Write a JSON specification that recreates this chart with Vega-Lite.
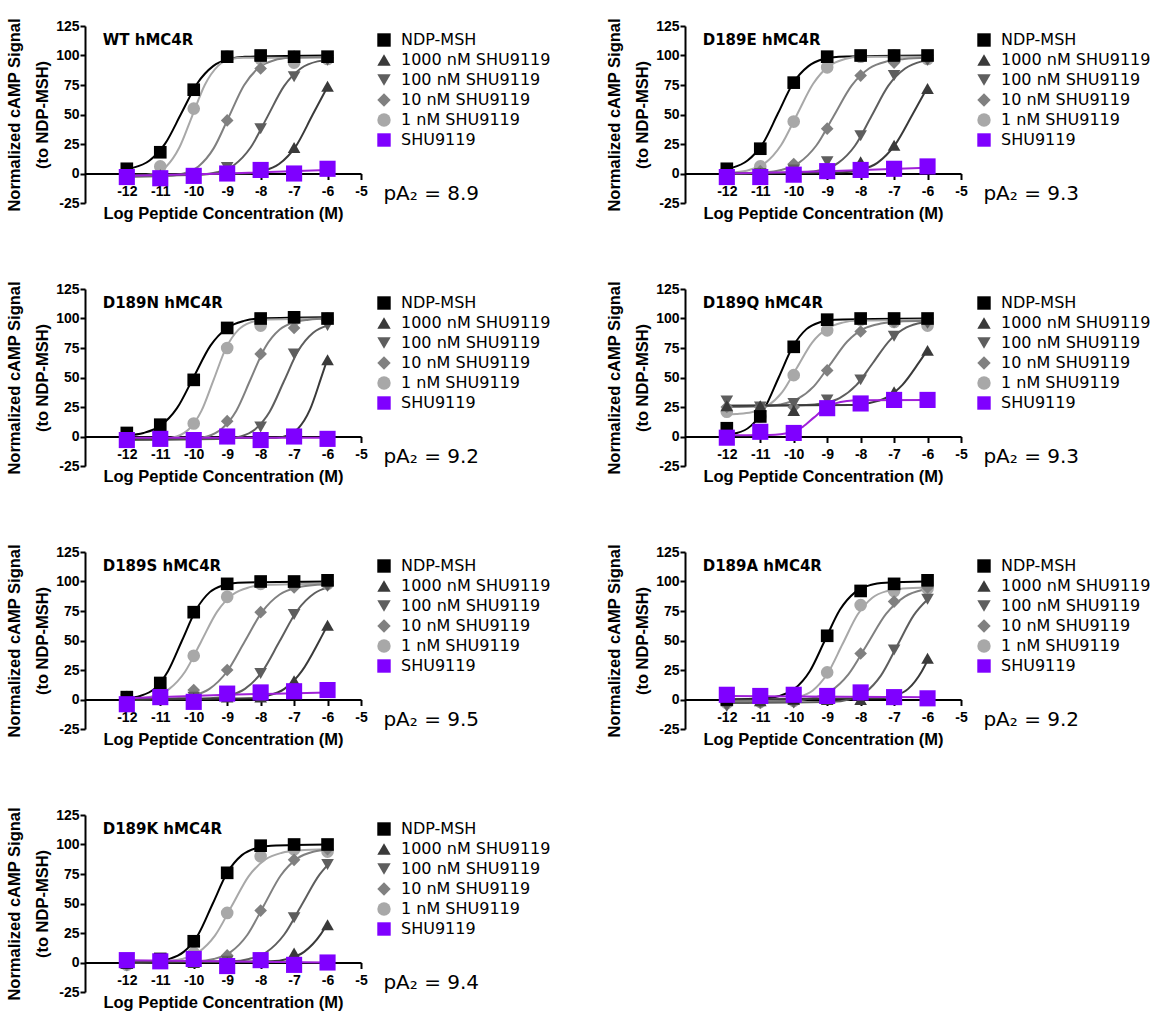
{
"$schema":"https://vega.github.io/schema/vega-lite/v6.json",
"padding":{"left":6,"top":17,"right":0,"bottom":0},
"background":"white",
"columns":2,
"spacing":{"row":86,"column":324},
"bounds":"flush",
"resolve":{"scale":{"color":"independent","shape":"independent"},"legend":{"color":"independent","shape":"independent"}},
"config":{
"view":{"stroke":null},
"axis":{"grid":false,"labelFont":"Liberation Sans","labelFontWeight":"bold","labelFontSize":14,"labelColor":"#000","titleFont":"Liberation Sans","titleFontWeight":"bold","titleFontSize":16.5,"titleColor":"#000","domainColor":"#000","domainWidth":2,"tickColor":"#000","tickWidth":2,"labelFlush":false,"labelOverlap":false,"tickCount":20},
"axisX":{"tickSize":6,"labelPadding":5,"titlePadding":7},
"axisY":{"tickSize":5,"labelPadding":1,"titlePadding":5,"titleLineHeight":28},
"legend":{"labelFont":"DejaVu Sans","labelFontSize":16,"labelColor":"#000","symbolSize":180,"rowPadding":4,"labelOffset":9}
},
"datasets":{
"ann":[
{"p":"WT","t":"WT hMC4R","a":"pA₂ = 8.9"},
{"p":"D189E","t":"D189E hMC4R","a":"pA₂ = 9.3"},
{"p":"D189N","t":"D189N hMC4R","a":"pA₂ = 9.2"},
{"p":"D189Q","t":"D189Q hMC4R","a":"pA₂ = 9.3"},
{"p":"D189S","t":"D189S hMC4R","a":"pA₂ = 9.5"},
{"p":"D189A","t":"D189A hMC4R","a":"pA₂ = 9.2"},
{"p":"D189K","t":"D189K hMC4R","a":"pA₂ = 9.4"}
],
"pts":[
{"p":"WT","s":"1","x":-12,"y":-3},{"p":"WT","s":"1","x":-11,"y":6},{"p":"WT","s":"1","x":-10,"y":55},{"p":"WT","s":"1","x":-9,"y":99},{"p":"WT","s":"1","x":-8,"y":97},{"p":"WT","s":"1","x":-7,"y":94},{"p":"WT","s":"1","x":-6,"y":97},
{"p":"WT","s":"10","x":-12,"y":-3},{"p":"WT","s":"10","x":-11,"y":-3},{"p":"WT","s":"10","x":-10,"y":-2},{"p":"WT","s":"10","x":-9,"y":45},{"p":"WT","s":"10","x":-8,"y":89},{"p":"WT","s":"10","x":-7,"y":99},{"p":"WT","s":"10","x":-6,"y":98},
{"p":"WT","s":"100","x":-12,"y":-3},{"p":"WT","s":"100","x":-11,"y":-3},{"p":"WT","s":"100","x":-10,"y":-3},{"p":"WT","s":"100","x":-9,"y":5},{"p":"WT","s":"100","x":-8,"y":38},{"p":"WT","s":"100","x":-7,"y":82},{"p":"WT","s":"100","x":-6,"y":96},
{"p":"WT","s":"1000","x":-12,"y":-1},{"p":"WT","s":"1000","x":-11,"y":-1},{"p":"WT","s":"1000","x":-10,"y":-1},{"p":"WT","s":"1000","x":-9,"y":0},{"p":"WT","s":"1000","x":-8,"y":2},{"p":"WT","s":"1000","x":-7,"y":22},{"p":"WT","s":"1000","x":-6,"y":74},
{"p":"WT","s":"N","x":-12,"y":4},{"p":"WT","s":"N","x":-11,"y":18},{"p":"WT","s":"N","x":-10,"y":71},{"p":"WT","s":"N","x":-9,"y":99},{"p":"WT","s":"N","x":-8,"y":100},{"p":"WT","s":"N","x":-7,"y":99},{"p":"WT","s":"N","x":-6,"y":99},
{"p":"WT","s":"S","x":-12,"y":-3},{"p":"WT","s":"S","x":-11,"y":-4},{"p":"WT","s":"S","x":-10,"y":-2},{"p":"WT","s":"S","x":-9,"y":0},{"p":"WT","s":"S","x":-8,"y":3},{"p":"WT","s":"S","x":-7,"y":0},{"p":"WT","s":"S","x":-6,"y":4},

{"p":"D189E","s":"1","x":-12,"y":2},{"p":"D189E","s":"1","x":-11,"y":6},{"p":"D189E","s":"1","x":-10,"y":44},{"p":"D189E","s":"1","x":-9,"y":90},{"p":"D189E","s":"1","x":-8,"y":99},{"p":"D189E","s":"1","x":-7,"y":100},{"p":"D189E","s":"1","x":-6,"y":97},
{"p":"D189E","s":"10","x":-12,"y":1},{"p":"D189E","s":"10","x":-11,"y":2},{"p":"D189E","s":"10","x":-10,"y":8},{"p":"D189E","s":"10","x":-9,"y":38},{"p":"D189E","s":"10","x":-8,"y":83},{"p":"D189E","s":"10","x":-7,"y":94},{"p":"D189E","s":"10","x":-6,"y":97},
{"p":"D189E","s":"100","x":-12,"y":0},{"p":"D189E","s":"100","x":-11,"y":0},{"p":"D189E","s":"100","x":-10,"y":3},{"p":"D189E","s":"100","x":-9,"y":10},{"p":"D189E","s":"100","x":-8,"y":32},{"p":"D189E","s":"100","x":-7,"y":83},{"p":"D189E","s":"100","x":-6,"y":96},
{"p":"D189E","s":"1000","x":-12,"y":0},{"p":"D189E","s":"1000","x":-11,"y":0},{"p":"D189E","s":"1000","x":-10,"y":1},{"p":"D189E","s":"1000","x":-9,"y":2},{"p":"D189E","s":"1000","x":-8,"y":10},{"p":"D189E","s":"1000","x":-7,"y":24},{"p":"D189E","s":"1000","x":-6,"y":72},
{"p":"D189E","s":"N","x":-12,"y":4},{"p":"D189E","s":"N","x":-11,"y":21},{"p":"D189E","s":"N","x":-10,"y":77},{"p":"D189E","s":"N","x":-9,"y":99},{"p":"D189E","s":"N","x":-8,"y":100},{"p":"D189E","s":"N","x":-7,"y":100},{"p":"D189E","s":"N","x":-6,"y":100},
{"p":"D189E","s":"S","x":-12,"y":-3},{"p":"D189E","s":"S","x":-11,"y":-3},{"p":"D189E","s":"S","x":-10,"y":-1},{"p":"D189E","s":"S","x":-9,"y":2},{"p":"D189E","s":"S","x":-8,"y":3},{"p":"D189E","s":"S","x":-7,"y":4},{"p":"D189E","s":"S","x":-6,"y":6},

{"p":"D189N","s":"1","x":-12,"y":-3},{"p":"D189N","s":"1","x":-11,"y":-3},{"p":"D189N","s":"1","x":-10,"y":11},{"p":"D189N","s":"1","x":-9,"y":75},{"p":"D189N","s":"1","x":-8,"y":94},{"p":"D189N","s":"1","x":-7,"y":99},{"p":"D189N","s":"1","x":-6,"y":100},
{"p":"D189N","s":"10","x":-12,"y":-3},{"p":"D189N","s":"10","x":-11,"y":-3},{"p":"D189N","s":"10","x":-10,"y":-3},{"p":"D189N","s":"10","x":-9,"y":13},{"p":"D189N","s":"10","x":-8,"y":70},{"p":"D189N","s":"10","x":-7,"y":92},{"p":"D189N","s":"10","x":-6,"y":99},
{"p":"D189N","s":"100","x":-12,"y":-3},{"p":"D189N","s":"100","x":-11,"y":-3},{"p":"D189N","s":"100","x":-10,"y":-3},{"p":"D189N","s":"100","x":-9,"y":-2},{"p":"D189N","s":"100","x":-8,"y":8},{"p":"D189N","s":"100","x":-7,"y":70},{"p":"D189N","s":"100","x":-6,"y":94},
{"p":"D189N","s":"1000","x":-12,"y":-2},{"p":"D189N","s":"1000","x":-11,"y":-2},{"p":"D189N","s":"1000","x":-10,"y":-1},{"p":"D189N","s":"1000","x":-9,"y":0},{"p":"D189N","s":"1000","x":-8,"y":-1},{"p":"D189N","s":"1000","x":-7,"y":0},{"p":"D189N","s":"1000","x":-6,"y":65},
{"p":"D189N","s":"N","x":-12,"y":3},{"p":"D189N","s":"N","x":-11,"y":10},{"p":"D189N","s":"N","x":-10,"y":48},{"p":"D189N","s":"N","x":-9,"y":92},{"p":"D189N","s":"N","x":-8,"y":100},{"p":"D189N","s":"N","x":-7,"y":101},{"p":"D189N","s":"N","x":-6,"y":100},
{"p":"D189N","s":"S","x":-12,"y":-3},{"p":"D189N","s":"S","x":-11,"y":-2},{"p":"D189N","s":"S","x":-10,"y":-3},{"p":"D189N","s":"S","x":-9,"y":0},{"p":"D189N","s":"S","x":-8,"y":-3},{"p":"D189N","s":"S","x":-7,"y":0},{"p":"D189N","s":"S","x":-6,"y":-2},

{"p":"D189Q","s":"1","x":-12,"y":21},{"p":"D189Q","s":"1","x":-11,"y":17},{"p":"D189Q","s":"1","x":-10,"y":52},{"p":"D189Q","s":"1","x":-9,"y":90},{"p":"D189Q","s":"1","x":-8,"y":99},{"p":"D189Q","s":"1","x":-7,"y":97},{"p":"D189Q","s":"1","x":-6,"y":94},
{"p":"D189Q","s":"10","x":-12,"y":25},{"p":"D189Q","s":"10","x":-11,"y":25},{"p":"D189Q","s":"10","x":-10,"y":25},{"p":"D189Q","s":"10","x":-9,"y":56},{"p":"D189Q","s":"10","x":-8,"y":89},{"p":"D189Q","s":"10","x":-7,"y":97},{"p":"D189Q","s":"10","x":-6,"y":97},
{"p":"D189Q","s":"100","x":-12,"y":30},{"p":"D189Q","s":"100","x":-11,"y":25},{"p":"D189Q","s":"100","x":-10,"y":28},{"p":"D189Q","s":"100","x":-9,"y":31},{"p":"D189Q","s":"100","x":-8,"y":48},{"p":"D189Q","s":"100","x":-7,"y":85},{"p":"D189Q","s":"100","x":-6,"y":96},
{"p":"D189Q","s":"1000","x":-12,"y":26},{"p":"D189Q","s":"1000","x":-11,"y":26},{"p":"D189Q","s":"1000","x":-10,"y":22},{"p":"D189Q","s":"1000","x":-9,"y":26},{"p":"D189Q","s":"1000","x":-8,"y":28},{"p":"D189Q","s":"1000","x":-7,"y":38},{"p":"D189Q","s":"1000","x":-6,"y":73},
{"p":"D189Q","s":"N","x":-12,"y":7},{"p":"D189Q","s":"N","x":-11,"y":17},{"p":"D189Q","s":"N","x":-10,"y":76},{"p":"D189Q","s":"N","x":-9,"y":99},{"p":"D189Q","s":"N","x":-8,"y":100},{"p":"D189Q","s":"N","x":-7,"y":100},{"p":"D189Q","s":"N","x":-6,"y":100},
{"p":"D189Q","s":"S","x":-12,"y":-1},{"p":"D189Q","s":"S","x":-11,"y":4},{"p":"D189Q","s":"S","x":-10,"y":3},{"p":"D189Q","s":"S","x":-9,"y":24},{"p":"D189Q","s":"S","x":-8,"y":28},{"p":"D189Q","s":"S","x":-7,"y":31},{"p":"D189Q","s":"S","x":-6,"y":31},

{"p":"D189S","s":"1","x":-12,"y":2},{"p":"D189S","s":"1","x":-11,"y":9},{"p":"D189S","s":"1","x":-10,"y":37},{"p":"D189S","s":"1","x":-9,"y":87},{"p":"D189S","s":"1","x":-8,"y":98},{"p":"D189S","s":"1","x":-7,"y":98},{"p":"D189S","s":"1","x":-6,"y":98},
{"p":"D189S","s":"10","x":-12,"y":-1},{"p":"D189S","s":"10","x":-11,"y":2},{"p":"D189S","s":"10","x":-10,"y":8},{"p":"D189S","s":"10","x":-9,"y":25},{"p":"D189S","s":"10","x":-8,"y":74},{"p":"D189S","s":"10","x":-7,"y":95},{"p":"D189S","s":"10","x":-6,"y":97},
{"p":"D189S","s":"100","x":-12,"y":0},{"p":"D189S","s":"100","x":-11,"y":1},{"p":"D189S","s":"100","x":-10,"y":2},{"p":"D189S","s":"100","x":-9,"y":5},{"p":"D189S","s":"100","x":-8,"y":22},{"p":"D189S","s":"100","x":-7,"y":72},{"p":"D189S","s":"100","x":-6,"y":96},
{"p":"D189S","s":"1000","x":-12,"y":0},{"p":"D189S","s":"1000","x":-11,"y":1},{"p":"D189S","s":"1000","x":-10,"y":1},{"p":"D189S","s":"1000","x":-9,"y":2},{"p":"D189S","s":"1000","x":-8,"y":2},{"p":"D189S","s":"1000","x":-7,"y":16},{"p":"D189S","s":"1000","x":-6,"y":63},
{"p":"D189S","s":"N","x":-12,"y":2},{"p":"D189S","s":"N","x":-11,"y":14},{"p":"D189S","s":"N","x":-10,"y":74},{"p":"D189S","s":"N","x":-9,"y":98},{"p":"D189S","s":"N","x":-8,"y":100},{"p":"D189S","s":"N","x":-7,"y":100},{"p":"D189S","s":"N","x":-6,"y":101},
{"p":"D189S","s":"S","x":-12,"y":-4},{"p":"D189S","s":"S","x":-11,"y":2},{"p":"D189S","s":"S","x":-10,"y":-2},{"p":"D189S","s":"S","x":-9,"y":5},{"p":"D189S","s":"S","x":-8,"y":6},{"p":"D189S","s":"S","x":-7,"y":7},{"p":"D189S","s":"S","x":-6,"y":8},

{"p":"D189A","s":"1","x":-12,"y":-3},{"p":"D189A","s":"1","x":-11,"y":-2},{"p":"D189A","s":"1","x":-10,"y":-1},{"p":"D189A","s":"1","x":-9,"y":23},{"p":"D189A","s":"1","x":-8,"y":80},{"p":"D189A","s":"1","x":-7,"y":92},{"p":"D189A","s":"1","x":-6,"y":94},
{"p":"D189A","s":"10","x":-12,"y":-3},{"p":"D189A","s":"10","x":-11,"y":-3},{"p":"D189A","s":"10","x":-10,"y":-2},{"p":"D189A","s":"10","x":-9,"y":1},{"p":"D189A","s":"10","x":-8,"y":39},{"p":"D189A","s":"10","x":-7,"y":83},{"p":"D189A","s":"10","x":-6,"y":95},
{"p":"D189A","s":"100","x":-12,"y":-6},{"p":"D189A","s":"100","x":-11,"y":-3},{"p":"D189A","s":"100","x":-10,"y":-3},{"p":"D189A","s":"100","x":-9,"y":0},{"p":"D189A","s":"100","x":-8,"y":1},{"p":"D189A","s":"100","x":-7,"y":42},{"p":"D189A","s":"100","x":-6,"y":85},
{"p":"D189A","s":"1000","x":-12,"y":-1},{"p":"D189A","s":"1000","x":-11,"y":-1},{"p":"D189A","s":"1000","x":-10,"y":0},{"p":"D189A","s":"1000","x":-9,"y":0},{"p":"D189A","s":"1000","x":-8,"y":0},{"p":"D189A","s":"1000","x":-7,"y":0},{"p":"D189A","s":"1000","x":-6,"y":35},
{"p":"D189A","s":"N","x":-12,"y":0},{"p":"D189A","s":"N","x":-11,"y":4},{"p":"D189A","s":"N","x":-10,"y":2},{"p":"D189A","s":"N","x":-9,"y":54},{"p":"D189A","s":"N","x":-8,"y":92},{"p":"D189A","s":"N","x":-7,"y":98},{"p":"D189A","s":"N","x":-6,"y":101},
{"p":"D189A","s":"S","x":-12,"y":4},{"p":"D189A","s":"S","x":-11,"y":3},{"p":"D189A","s":"S","x":-10,"y":4},{"p":"D189A","s":"S","x":-9,"y":3},{"p":"D189A","s":"S","x":-8,"y":6},{"p":"D189A","s":"S","x":-7,"y":2},{"p":"D189A","s":"S","x":-6,"y":1},

{"p":"D189K","s":"1","x":-12,"y":-2},{"p":"D189K","s":"1","x":-11,"y":1},{"p":"D189K","s":"1","x":-10,"y":8},{"p":"D189K","s":"1","x":-9,"y":42},{"p":"D189K","s":"1","x":-8,"y":90},{"p":"D189K","s":"1","x":-7,"y":96},{"p":"D189K","s":"1","x":-6,"y":94},
{"p":"D189K","s":"10","x":-12,"y":-2},{"p":"D189K","s":"10","x":-11,"y":0},{"p":"D189K","s":"10","x":-10,"y":1},{"p":"D189K","s":"10","x":-9,"y":6},{"p":"D189K","s":"10","x":-8,"y":44},{"p":"D189K","s":"10","x":-7,"y":87},{"p":"D189K","s":"10","x":-6,"y":96},
{"p":"D189K","s":"100","x":-12,"y":-1},{"p":"D189K","s":"100","x":-11,"y":0},{"p":"D189K","s":"100","x":-10,"y":1},{"p":"D189K","s":"100","x":-9,"y":1},{"p":"D189K","s":"100","x":-8,"y":2},{"p":"D189K","s":"100","x":-7,"y":38},{"p":"D189K","s":"100","x":-6,"y":83},
{"p":"D189K","s":"1000","x":-12,"y":0},{"p":"D189K","s":"1000","x":-11,"y":0},{"p":"D189K","s":"1000","x":-10,"y":0},{"p":"D189K","s":"1000","x":-9,"y":0},{"p":"D189K","s":"1000","x":-8,"y":1},{"p":"D189K","s":"1000","x":-7,"y":8},{"p":"D189K","s":"1000","x":-6,"y":32},
{"p":"D189K","s":"N","x":-12,"y":0},{"p":"D189K","s":"N","x":-11,"y":3},{"p":"D189K","s":"N","x":-10,"y":18},{"p":"D189K","s":"N","x":-9,"y":76},{"p":"D189K","s":"N","x":-8,"y":99},{"p":"D189K","s":"N","x":-7,"y":100},{"p":"D189K","s":"N","x":-6,"y":100},
{"p":"D189K","s":"S","x":-12,"y":2},{"p":"D189K","s":"S","x":-11,"y":1},{"p":"D189K","s":"S","x":-10,"y":3},{"p":"D189K","s":"S","x":-9,"y":-3},{"p":"D189K","s":"S","x":-8,"y":2},{"p":"D189K","s":"S","x":-7,"y":-2},{"p":"D189K","s":"S","x":-6,"y":0}
],
"fit":[
{"p":"WT","c":"N","x":-12,"y":4},{"p":"WT","c":"N","x":-11.8,"y":5},{"p":"WT","c":"N","x":-11.32,"y":11},{"p":"WT","c":"N","x":-10.85,"y":25.5},{"p":"WT","c":"N","x":-10.37,"y":51},{"p":"WT","c":"N","x":-9.89,"y":76.5},{"p":"WT","c":"N","x":-9.42,"y":91},{"p":"WT","c":"N","x":-8.94,"y":97},{"p":"WT","c":"N","x":-8.47,"y":99},{"p":"WT","c":"N","x":-6,"y":100},
{"p":"WT","c":"1","x":-12,"y":-3},{"p":"WT","c":"1","x":-11.59,"y":-2},{"p":"WT","c":"1","x":-11.2,"y":0},{"p":"WT","c":"1","x":-10.82,"y":6},{"p":"WT","c":"1","x":-10.43,"y":22},{"p":"WT","c":"1","x":-10.05,"y":48.5},{"p":"WT","c":"1","x":-9.67,"y":75},{"p":"WT","c":"1","x":-9.28,"y":91},{"p":"WT","c":"1","x":-8.9,"y":97},{"p":"WT","c":"1","x":-8.51,"y":98},{"p":"WT","c":"1","x":-6,"y":98},
{"p":"WT","c":"10","x":-12,"y":-3},{"p":"WT","c":"10","x":-10.77,"y":-2},{"p":"WT","c":"10","x":-10.31,"y":0},{"p":"WT","c":"10","x":-9.86,"y":6},{"p":"WT","c":"10","x":-9.4,"y":21.5},{"p":"WT","c":"10","x":-8.95,"y":48},{"p":"WT","c":"10","x":-8.5,"y":74.5},{"p":"WT","c":"10","x":-8.04,"y":90},{"p":"WT","c":"10","x":-7.59,"y":96},{"p":"WT","c":"10","x":-7.13,"y":98},{"p":"WT","c":"10","x":-6,"y":99},
{"p":"WT","c":"100","x":-12,"y":-2},{"p":"WT","c":"100","x":-9.8,"y":-1},{"p":"WT","c":"100","x":-9.3,"y":1},{"p":"WT","c":"100","x":-8.8,"y":7},{"p":"WT","c":"100","x":-8.3,"y":22},{"p":"WT","c":"100","x":-7.8,"y":48},{"p":"WT","c":"100","x":-7.3,"y":74},{"p":"WT","c":"100","x":-6.8,"y":89},{"p":"WT","c":"100","x":-6.3,"y":95},{"p":"WT","c":"100","x":-6,"y":96},
{"p":"WT","c":"1000","x":-12,"y":-1},{"p":"WT","c":"1000","x":-8.45,"y":0},{"p":"WT","c":"1000","x":-7.95,"y":2},{"p":"WT","c":"1000","x":-7.45,"y":8},{"p":"WT","c":"1000","x":-6.95,"y":23},{"p":"WT","c":"1000","x":-6.45,"y":49.5},{"p":"WT","c":"1000","x":-6,"y":73.5},
{"p":"WT","c":"S","x":-12,"y":-2},{"p":"WT","c":"S","x":-9,"y":0},{"p":"WT","c":"S","x":-6,"y":3},

{"p":"D189E","c":"N","x":-12,"y":4},{"p":"D189E","c":"N","x":-11.83,"y":5},{"p":"D189E","c":"N","x":-11.38,"y":11},{"p":"D189E","c":"N","x":-10.92,"y":25.5},{"p":"D189E","c":"N","x":-10.47,"y":51},{"p":"D189E","c":"N","x":-10.02,"y":76.5},{"p":"D189E","c":"N","x":-9.56,"y":91},{"p":"D189E","c":"N","x":-9.11,"y":97},{"p":"D189E","c":"N","x":-8.65,"y":99},{"p":"D189E","c":"N","x":-6,"y":100},
{"p":"D189E","c":"1","x":-12,"y":0.6},{"p":"D189E","c":"1","x":-11.8,"y":1},{"p":"D189E","c":"1","x":-11.33,"y":3},{"p":"D189E","c":"1","x":-10.85,"y":9},{"p":"D189E","c":"1","x":-10.38,"y":24},{"p":"D189E","c":"1","x":-9.9,"y":50},{"p":"D189E","c":"1","x":-9.42,"y":76},{"p":"D189E","c":"1","x":-8.95,"y":91},{"p":"D189E","c":"1","x":-8.47,"y":97},{"p":"D189E","c":"1","x":-8,"y":99},{"p":"D189E","c":"1","x":-6,"y":99},
{"p":"D189E","c":"10","x":-12,"y":0},{"p":"D189E","c":"10","x":-10.9,"y":1},{"p":"D189E","c":"10","x":-10.38,"y":3},{"p":"D189E","c":"10","x":-9.85,"y":9},{"p":"D189E","c":"10","x":-9.33,"y":23.5},{"p":"D189E","c":"10","x":-8.8,"y":49},{"p":"D189E","c":"10","x":-8.27,"y":74.5},{"p":"D189E","c":"10","x":-7.75,"y":89},{"p":"D189E","c":"10","x":-7.22,"y":95},{"p":"D189E","c":"10","x":-6.7,"y":97},{"p":"D189E","c":"10","x":-6,"y":98},
{"p":"D189E","c":"100","x":-12,"y":0},{"p":"D189E","c":"100","x":-9.67,"y":1},{"p":"D189E","c":"100","x":-9.17,"y":3},{"p":"D189E","c":"100","x":-8.67,"y":9},{"p":"D189E","c":"100","x":-8.17,"y":23.5},{"p":"D189E","c":"100","x":-7.67,"y":49},{"p":"D189E","c":"100","x":-7.17,"y":74.5},{"p":"D189E","c":"100","x":-6.67,"y":89},{"p":"D189E","c":"100","x":-6.17,"y":95},{"p":"D189E","c":"100","x":-6,"y":96},
{"p":"D189E","c":"1000","x":-12,"y":0},{"p":"D189E","c":"1000","x":-8.55,"y":1},{"p":"D189E","c":"1000","x":-8.03,"y":3},{"p":"D189E","c":"1000","x":-7.5,"y":9},{"p":"D189E","c":"1000","x":-6.98,"y":24},{"p":"D189E","c":"1000","x":-6.45,"y":50},{"p":"D189E","c":"1000","x":-6,"y":73},
{"p":"D189E","c":"S","x":-12,"y":0},{"p":"D189E","c":"S","x":-9,"y":2},{"p":"D189E","c":"S","x":-6,"y":5},

{"p":"D189N","c":"N","x":-12,"y":1},{"p":"D189N","c":"N","x":-11.5,"y":3},{"p":"D189N","c":"N","x":-11,"y":9},{"p":"D189N","c":"N","x":-10.5,"y":24},{"p":"D189N","c":"N","x":-10,"y":50.5},{"p":"D189N","c":"N","x":-9.5,"y":77},{"p":"D189N","c":"N","x":-9,"y":92},{"p":"D189N","c":"N","x":-8.5,"y":98},{"p":"D189N","c":"N","x":-8,"y":100},{"p":"D189N","c":"N","x":-6,"y":101},
{"p":"D189N","c":"1","x":-12,"y":-3},{"p":"D189N","c":"1","x":-10.88,"y":-2},{"p":"D189N","c":"1","x":-10.51,"y":0},{"p":"D189N","c":"1","x":-10.14,"y":6.4},{"p":"D189N","c":"1","x":-9.77,"y":21.7},{"p":"D189N","c":"1","x":-9.4,"y":48.5},{"p":"D189N","c":"1","x":-9.03,"y":75.3},{"p":"D189N","c":"1","x":-8.66,"y":90.6},{"p":"D189N","c":"1","x":-8.29,"y":96.8},{"p":"D189N","c":"1","x":-7.92,"y":99},{"p":"D189N","c":"1","x":-6,"y":100},
{"p":"D189N","c":"10","x":-12,"y":-3},{"p":"D189N","c":"10","x":-10.04,"y":-2},{"p":"D189N","c":"10","x":-9.6,"y":0},{"p":"D189N","c":"10","x":-9.17,"y":6.4},{"p":"D189N","c":"10","x":-8.73,"y":21.7},{"p":"D189N","c":"10","x":-8.3,"y":48.5},{"p":"D189N","c":"10","x":-7.87,"y":75.3},{"p":"D189N","c":"10","x":-7.43,"y":90.6},{"p":"D189N","c":"10","x":-7,"y":96.8},{"p":"D189N","c":"10","x":-6.56,"y":99},{"p":"D189N","c":"10","x":-6,"y":100},
{"p":"D189N","c":"100","x":-12,"y":-3},{"p":"D189N","c":"100","x":-9.04,"y":-2},{"p":"D189N","c":"100","x":-8.6,"y":0},{"p":"D189N","c":"100","x":-8.17,"y":6},{"p":"D189N","c":"100","x":-7.73,"y":21},{"p":"D189N","c":"100","x":-7.3,"y":47},{"p":"D189N","c":"100","x":-6.87,"y":73},{"p":"D189N","c":"100","x":-6.43,"y":88},{"p":"D189N","c":"100","x":-6,"y":94},
{"p":"D189N","c":"1000","x":-12,"y":-2},{"p":"D189N","c":"1000","x":-7.53,"y":-1},{"p":"D189N","c":"1000","x":-7.2,"y":1},{"p":"D189N","c":"1000","x":-6.87,"y":7},{"p":"D189N","c":"1000","x":-6.53,"y":22.5},{"p":"D189N","c":"1000","x":-6.2,"y":49},{"p":"D189N","c":"1000","x":-6,"y":66},
{"p":"D189N","c":"S","x":-12,"y":-1},{"p":"D189N","c":"S","x":-6,"y":-1},

{"p":"D189Q","c":"N","x":-12,"y":2},{"p":"D189Q","c":"N","x":-11.7,"y":3},{"p":"D189Q","c":"N","x":-11.28,"y":9},{"p":"D189Q","c":"N","x":-10.87,"y":24},{"p":"D189Q","c":"N","x":-10.45,"y":50},{"p":"D189Q","c":"N","x":-10.03,"y":76},{"p":"D189Q","c":"N","x":-9.62,"y":91},{"p":"D189Q","c":"N","x":-9.2,"y":97},{"p":"D189Q","c":"N","x":-8.78,"y":99},{"p":"D189Q","c":"N","x":-6,"y":100},
{"p":"D189Q","c":"1","x":-12,"y":18.5},{"p":"D189Q","c":"1","x":-11.72,"y":19},{"p":"D189Q","c":"1","x":-11.26,"y":20.5},{"p":"D189Q","c":"1","x":-10.81,"y":25.4},{"p":"D189Q","c":"1","x":-10.35,"y":37.4},{"p":"D189Q","c":"1","x":-9.9,"y":58.5},{"p":"D189Q","c":"1","x":-9.45,"y":79.6},{"p":"D189Q","c":"1","x":-8.99,"y":91.6},{"p":"D189Q","c":"1","x":-8.54,"y":96.5},{"p":"D189Q","c":"1","x":-8.08,"y":98.2},{"p":"D189Q","c":"1","x":-6,"y":99},
{"p":"D189Q","c":"10","x":-12,"y":25},{"p":"D189Q","c":"10","x":-10.9,"y":25.7},{"p":"D189Q","c":"10","x":-10.4,"y":27.2},{"p":"D189Q","c":"10","x":-9.9,"y":31.6},{"p":"D189Q","c":"10","x":-9.4,"y":42.5},{"p":"D189Q","c":"10","x":-8.9,"y":61.5},{"p":"D189Q","c":"10","x":-8.4,"y":80.5},{"p":"D189Q","c":"10","x":-7.9,"y":91.4},{"p":"D189Q","c":"10","x":-7.4,"y":95.7},{"p":"D189Q","c":"10","x":-6.9,"y":97.3},{"p":"D189Q","c":"10","x":-6,"y":98},
{"p":"D189Q","c":"100","x":-12,"y":26},{"p":"D189Q","c":"100","x":-9.63,"y":26.7},{"p":"D189Q","c":"100","x":-9.13,"y":28.2},{"p":"D189Q","c":"100","x":-8.63,"y":32.6},{"p":"D189Q","c":"100","x":-8.13,"y":43.5},{"p":"D189Q","c":"100","x":-7.63,"y":62.5},{"p":"D189Q","c":"100","x":-7.13,"y":81.5},{"p":"D189Q","c":"100","x":-6.63,"y":92.4},{"p":"D189Q","c":"100","x":-6.13,"y":96.7},{"p":"D189Q","c":"100","x":-6,"y":97.3},
{"p":"D189Q","c":"1000","x":-12,"y":26},{"p":"D189Q","c":"1000","x":-8.25,"y":26.7},{"p":"D189Q","c":"1000","x":-7.75,"y":28.3},{"p":"D189Q","c":"1000","x":-7.25,"y":32.7},{"p":"D189Q","c":"1000","x":-6.75,"y":43.8},{"p":"D189Q","c":"1000","x":-6.25,"y":63},{"p":"D189Q","c":"1000","x":-6,"y":73.4},
{"p":"D189Q","c":"S","x":-12,"y":1},{"p":"D189Q","c":"S","x":-10.73,"y":1.3},{"p":"D189Q","c":"S","x":-10.4,"y":1.9},{"p":"D189Q","c":"S","x":-10.07,"y":3.7},{"p":"D189Q","c":"S","x":-9.73,"y":8.2},{"p":"D189Q","c":"S","x":-9.4,"y":16},{"p":"D189Q","c":"S","x":-9.07,"y":23.8},{"p":"D189Q","c":"S","x":-8.73,"y":28.3},{"p":"D189Q","c":"S","x":-8.4,"y":30.1},{"p":"D189Q","c":"S","x":-8.07,"y":30.7},{"p":"D189Q","c":"S","x":-6,"y":31},

{"p":"D189S","c":"N","x":-12,"y":1},{"p":"D189S","c":"N","x":-11.6,"y":3},{"p":"D189S","c":"N","x":-11.18,"y":9},{"p":"D189S","c":"N","x":-10.77,"y":24},{"p":"D189S","c":"N","x":-10.35,"y":50},{"p":"D189S","c":"N","x":-9.93,"y":76},{"p":"D189S","c":"N","x":-9.52,"y":91},{"p":"D189S","c":"N","x":-9.1,"y":97},{"p":"D189S","c":"N","x":-8.68,"y":99},{"p":"D189S","c":"N","x":-6,"y":100},
{"p":"D189S","c":"1","x":-12,"y":0.5},{"p":"D189S","c":"1","x":-11.68,"y":1},{"p":"D189S","c":"1","x":-11.21,"y":3},{"p":"D189S","c":"1","x":-10.73,"y":9},{"p":"D189S","c":"1","x":-10.26,"y":23.5},{"p":"D189S","c":"1","x":-9.78,"y":49},{"p":"D189S","c":"1","x":-9.3,"y":74.5},{"p":"D189S","c":"1","x":-8.83,"y":89},{"p":"D189S","c":"1","x":-8.35,"y":95},{"p":"D189S","c":"1","x":-7.88,"y":97},{"p":"D189S","c":"1","x":-6,"y":98},
{"p":"D189S","c":"10","x":-12,"y":0},{"p":"D189S","c":"10","x":-10.58,"y":1},{"p":"D189S","c":"10","x":-10.06,"y":3},{"p":"D189S","c":"10","x":-9.53,"y":9},{"p":"D189S","c":"10","x":-9.01,"y":23.5},{"p":"D189S","c":"10","x":-8.48,"y":49},{"p":"D189S","c":"10","x":-7.95,"y":74.5},{"p":"D189S","c":"10","x":-7.43,"y":89},{"p":"D189S","c":"10","x":-6.9,"y":95},{"p":"D189S","c":"10","x":-6.38,"y":97},{"p":"D189S","c":"10","x":-6,"y":97.6},
{"p":"D189S","c":"100","x":-12,"y":0},{"p":"D189S","c":"100","x":-9.51,"y":1},{"p":"D189S","c":"100","x":-8.99,"y":3},{"p":"D189S","c":"100","x":-8.47,"y":9},{"p":"D189S","c":"100","x":-7.95,"y":23.8},{"p":"D189S","c":"100","x":-7.43,"y":49.5},{"p":"D189S","c":"100","x":-6.91,"y":75.2},{"p":"D189S","c":"100","x":-6.39,"y":90},{"p":"D189S","c":"100","x":-6,"y":95},
{"p":"D189S","c":"1000","x":-12,"y":0},{"p":"D189S","c":"1000","x":-8.34,"y":1},{"p":"D189S","c":"1000","x":-7.82,"y":3},{"p":"D189S","c":"1000","x":-7.29,"y":9},{"p":"D189S","c":"1000","x":-6.77,"y":24},{"p":"D189S","c":"1000","x":-6.24,"y":50},{"p":"D189S","c":"1000","x":-6,"y":63},
{"p":"D189S","c":"S","x":-12,"y":1},{"p":"D189S","c":"S","x":-9,"y":4},{"p":"D189S","c":"S","x":-6,"y":6},

{"p":"D189A","c":"N","x":-12,"y":0},{"p":"D189A","c":"N","x":-10.89,"y":1},{"p":"D189A","c":"N","x":-10.43,"y":3},{"p":"D189A","c":"N","x":-9.98,"y":9},{"p":"D189A","c":"N","x":-9.52,"y":24},{"p":"D189A","c":"N","x":-9.07,"y":50},{"p":"D189A","c":"N","x":-8.62,"y":76},{"p":"D189A","c":"N","x":-8.16,"y":91},{"p":"D189A","c":"N","x":-7.71,"y":97},{"p":"D189A","c":"N","x":-7.25,"y":99},{"p":"D189A","c":"N","x":-6,"y":100},
{"p":"D189A","c":"1","x":-12,"y":-1},{"p":"D189A","c":"1","x":-10.33,"y":0},{"p":"D189A","c":"1","x":-9.88,"y":2},{"p":"D189A","c":"1","x":-9.43,"y":7.7},{"p":"D189A","c":"1","x":-8.99,"y":22},{"p":"D189A","c":"1","x":-8.54,"y":47},{"p":"D189A","c":"1","x":-8.09,"y":72},{"p":"D189A","c":"1","x":-7.65,"y":86.3},{"p":"D189A","c":"1","x":-7.2,"y":92},{"p":"D189A","c":"1","x":-6.75,"y":94},{"p":"D189A","c":"1","x":-6,"y":95},
{"p":"D189A","c":"10","x":-12,"y":-2},{"p":"D189A","c":"10","x":-10.02,"y":-1},{"p":"D189A","c":"10","x":-9.47,"y":1},{"p":"D189A","c":"10","x":-8.91,"y":6.9},{"p":"D189A","c":"10","x":-8.36,"y":21.5},{"p":"D189A","c":"10","x":-7.8,"y":47},{"p":"D189A","c":"10","x":-7.24,"y":72.5},{"p":"D189A","c":"10","x":-6.69,"y":87},{"p":"D189A","c":"10","x":-6.13,"y":93},{"p":"D189A","c":"10","x":-6,"y":93.7},
{"p":"D189A","c":"100","x":-12,"y":-3},{"p":"D189A","c":"100","x":-8.84,"y":-2},{"p":"D189A","c":"100","x":-8.36,"y":0},{"p":"D189A","c":"100","x":-7.87,"y":5.9},{"p":"D189A","c":"100","x":-7.39,"y":20.5},{"p":"D189A","c":"100","x":-6.9,"y":46},{"p":"D189A","c":"100","x":-6.41,"y":71.5},{"p":"D189A","c":"100","x":-6,"y":84.7},
{"p":"D189A","c":"1000","x":-12,"y":0},{"p":"D189A","c":"1000","x":-7.42,"y":1},{"p":"D189A","c":"1000","x":-7,"y":3},{"p":"D189A","c":"1000","x":-6.58,"y":9},{"p":"D189A","c":"1000","x":-6.17,"y":24},{"p":"D189A","c":"1000","x":-6,"y":33},
{"p":"D189A","c":"S","x":-12,"y":3},{"p":"D189A","c":"S","x":-6,"y":2},

{"p":"D189K","c":"N","x":-12,"y":0},{"p":"D189K","c":"N","x":-11.17,"y":1},{"p":"D189K","c":"N","x":-10.73,"y":3},{"p":"D189K","c":"N","x":-10.3,"y":9},{"p":"D189K","c":"N","x":-9.86,"y":24},{"p":"D189K","c":"N","x":-9.43,"y":50},{"p":"D189K","c":"N","x":-9,"y":76},{"p":"D189K","c":"N","x":-8.56,"y":91},{"p":"D189K","c":"N","x":-8.13,"y":97},{"p":"D189K","c":"N","x":-7.69,"y":99},{"p":"D189K","c":"N","x":-6,"y":100},
{"p":"D189K","c":"1","x":-12,"y":0},{"p":"D189K","c":"1","x":-10.86,"y":1},{"p":"D189K","c":"1","x":-10.36,"y":2.9},{"p":"D189K","c":"1","x":-9.86,"y":8.7},{"p":"D189K","c":"1","x":-9.36,"y":23},{"p":"D189K","c":"1","x":-8.86,"y":48},{"p":"D189K","c":"1","x":-8.36,"y":73},{"p":"D189K","c":"1","x":-7.86,"y":87.3},{"p":"D189K","c":"1","x":-7.36,"y":93},{"p":"D189K","c":"1","x":-6.86,"y":95},{"p":"D189K","c":"1","x":-6,"y":96},
{"p":"D189K","c":"10","x":-12,"y":0},{"p":"D189K","c":"10","x":-9.9,"y":1},{"p":"D189K","c":"10","x":-9.4,"y":3},{"p":"D189K","c":"10","x":-8.9,"y":8.8},{"p":"D189K","c":"10","x":-8.4,"y":23.3},{"p":"D189K","c":"10","x":-7.9,"y":48.5},{"p":"D189K","c":"10","x":-7.4,"y":73.7},{"p":"D189K","c":"10","x":-6.9,"y":88.2},{"p":"D189K","c":"10","x":-6.4,"y":94},{"p":"D189K","c":"10","x":-6,"y":95.8},
{"p":"D189K","c":"100","x":-12,"y":0},{"p":"D189K","c":"100","x":-8.87,"y":1},{"p":"D189K","c":"100","x":-8.35,"y":3},{"p":"D189K","c":"100","x":-7.82,"y":8.9},{"p":"D189K","c":"100","x":-7.3,"y":23.5},{"p":"D189K","c":"100","x":-6.77,"y":49},{"p":"D189K","c":"100","x":-6.24,"y":74.5},{"p":"D189K","c":"100","x":-6,"y":82.6},
{"p":"D189K","c":"1000","x":-12,"y":0},{"p":"D189K","c":"1000","x":-7.7,"y":1},{"p":"D189K","c":"1000","x":-7.2,"y":3},{"p":"D189K","c":"1000","x":-6.7,"y":9},{"p":"D189K","c":"1000","x":-6.2,"y":24},{"p":"D189K","c":"1000","x":-6,"y":33},
{"p":"D189K","c":"S","x":-12,"y":2},{"p":"D189K","c":"S","x":-6,"y":0}
]
},
"concat":[
{"width":276,"height":177,"layer":[
{"data":{"name":"fit"},"transform":[{"filter":"datum.p=='WT'"}],"mark":{"type":"line","interpolate":"monotone","strokeWidth":2},"encoding":{"x":{"field":"x","type":"quantitative","scale":{"domain":[-13.25,-5],"nice":false,"zero":false},"axis":{"values":[-12,-11,-10,-9,-8,-7,-6,-5],"offset":-29.5,"labelExpr":"datum.value<0?'-'+abs(datum.value):datum.label","title":"Log Peptide Concentration (M)"}},"y":{"field":"y","type":"quantitative","scale":{"domain":[-25,125],"nice":false,"zero":false},"axis":{"values":[-25,0,25,50,75,100,125],"labelExpr":"datum.value<0?'-'+abs(datum.value):datum.label","title":["Normalized cAMP Signal","(to NDP-MSH)"]}},"stroke":{"field":"c","type":"nominal","scale":{"domain":["N","1000","100","10","1","S"],"range":["#000000","#3a3a3a","#5e5e5e","#808080","#a8a8a8","#a020d8"]},"legend":null}}},
{"data":{"name":"pts"},"transform":[{"filter":"datum.p=='WT'"}],"mark":{"type":"point","filled":true,"opacity":1},"encoding":{"x":{"field":"x","type":"quantitative"},"y":{"field":"y","type":"quantitative"},"size":{"condition":{"test":"datum.s=='S'","value":260},"value":160},"color":{"field":"s","type":"nominal","scale":{"domain":["N","1000","100","10","1","S"],"range":["#000000","#3a3a3a","#5e5e5e","#808080","#a8a8a8","#7f00ff"]},"legend":{"title":null,"orient":"none","legendX":291,"legendY":6,"labelExpr":"datum.label=='N'?'NDP-MSH':datum.label=='S'?'SHU9119':datum.label+' nM SHU9119'"}},"shape":{"field":"s","type":"nominal","scale":{"domain":["N","1000","100","10","1","S"],"range":["square","triangle-up","triangle-down","diamond","circle","square"]},"legend":{"title":null,"orient":"none","legendX":291,"legendY":6,"labelExpr":"datum.label=='N'?'NDP-MSH':datum.label=='S'?'SHU9119':datum.label+' nM SHU9119'"}}}},
{"data":{"name":"ann"},"transform":[{"filter":"datum.p=='WT'"}],"mark":{"type":"text","align":"left","baseline":"middle","font":"DejaVu Sans","fontWeight":"bold","fontSize":15},"encoding":{"x":{"datum":-12.72},"y":{"datum":113},"text":{"field":"t"}}},
{"data":{"name":"ann"},"transform":[{"filter":"datum.p=='WT'"}],"mark":{"type":"text","align":"left","baseline":"middle","font":"DejaVu Sans","fontSize":20},"encoding":{"x":{"datum":-4.33},"y":{"datum":-17},"text":{"field":"a"}}}
]},
{"width":276,"height":177,"layer":[
{"data":{"name":"fit"},"transform":[{"filter":"datum.p=='D189E'"}],"mark":{"type":"line","interpolate":"monotone","strokeWidth":2},"encoding":{"x":{"field":"x","type":"quantitative","scale":{"domain":[-13.25,-5],"nice":false,"zero":false},"axis":{"values":[-12,-11,-10,-9,-8,-7,-6,-5],"offset":-29.5,"labelExpr":"datum.value<0?'-'+abs(datum.value):datum.label","title":"Log Peptide Concentration (M)"}},"y":{"field":"y","type":"quantitative","scale":{"domain":[-25,125],"nice":false,"zero":false},"axis":{"values":[-25,0,25,50,75,100,125],"labelExpr":"datum.value<0?'-'+abs(datum.value):datum.label","title":["Normalized cAMP Signal","(to NDP-MSH)"]}},"stroke":{"field":"c","type":"nominal","scale":{"domain":["N","1000","100","10","1","S"],"range":["#000000","#3a3a3a","#5e5e5e","#808080","#a8a8a8","#a020d8"]},"legend":null}}},
{"data":{"name":"pts"},"transform":[{"filter":"datum.p=='D189E'"}],"mark":{"type":"point","filled":true,"opacity":1},"encoding":{"x":{"field":"x","type":"quantitative"},"y":{"field":"y","type":"quantitative"},"size":{"condition":{"test":"datum.s=='S'","value":260},"value":160},"color":{"field":"s","type":"nominal","scale":{"domain":["N","1000","100","10","1","S"],"range":["#000000","#3a3a3a","#5e5e5e","#808080","#a8a8a8","#7f00ff"]},"legend":{"title":null,"orient":"none","legendX":291,"legendY":6,"labelExpr":"datum.label=='N'?'NDP-MSH':datum.label=='S'?'SHU9119':datum.label+' nM SHU9119'"}},"shape":{"field":"s","type":"nominal","scale":{"domain":["N","1000","100","10","1","S"],"range":["square","triangle-up","triangle-down","diamond","circle","square"]},"legend":{"title":null,"orient":"none","legendX":291,"legendY":6,"labelExpr":"datum.label=='N'?'NDP-MSH':datum.label=='S'?'SHU9119':datum.label+' nM SHU9119'"}}}},
{"data":{"name":"ann"},"transform":[{"filter":"datum.p=='D189E'"}],"mark":{"type":"text","align":"left","baseline":"middle","font":"DejaVu Sans","fontWeight":"bold","fontSize":15},"encoding":{"x":{"datum":-12.72},"y":{"datum":113},"text":{"field":"t"}}},
{"data":{"name":"ann"},"transform":[{"filter":"datum.p=='D189E'"}],"mark":{"type":"text","align":"left","baseline":"middle","font":"DejaVu Sans","fontSize":20},"encoding":{"x":{"datum":-4.33},"y":{"datum":-17},"text":{"field":"a"}}}
]},
{"width":276,"height":177,"layer":[
{"data":{"name":"fit"},"transform":[{"filter":"datum.p=='D189N'"}],"mark":{"type":"line","interpolate":"monotone","strokeWidth":2},"encoding":{"x":{"field":"x","type":"quantitative","scale":{"domain":[-13.25,-5],"nice":false,"zero":false},"axis":{"values":[-12,-11,-10,-9,-8,-7,-6,-5],"offset":-29.5,"labelExpr":"datum.value<0?'-'+abs(datum.value):datum.label","title":"Log Peptide Concentration (M)"}},"y":{"field":"y","type":"quantitative","scale":{"domain":[-25,125],"nice":false,"zero":false},"axis":{"values":[-25,0,25,50,75,100,125],"labelExpr":"datum.value<0?'-'+abs(datum.value):datum.label","title":["Normalized cAMP Signal","(to NDP-MSH)"]}},"stroke":{"field":"c","type":"nominal","scale":{"domain":["N","1000","100","10","1","S"],"range":["#000000","#3a3a3a","#5e5e5e","#808080","#a8a8a8","#a020d8"]},"legend":null}}},
{"data":{"name":"pts"},"transform":[{"filter":"datum.p=='D189N'"}],"mark":{"type":"point","filled":true,"opacity":1},"encoding":{"x":{"field":"x","type":"quantitative"},"y":{"field":"y","type":"quantitative"},"size":{"condition":{"test":"datum.s=='S'","value":260},"value":160},"color":{"field":"s","type":"nominal","scale":{"domain":["N","1000","100","10","1","S"],"range":["#000000","#3a3a3a","#5e5e5e","#808080","#a8a8a8","#7f00ff"]},"legend":{"title":null,"orient":"none","legendX":291,"legendY":6,"labelExpr":"datum.label=='N'?'NDP-MSH':datum.label=='S'?'SHU9119':datum.label+' nM SHU9119'"}},"shape":{"field":"s","type":"nominal","scale":{"domain":["N","1000","100","10","1","S"],"range":["square","triangle-up","triangle-down","diamond","circle","square"]},"legend":{"title":null,"orient":"none","legendX":291,"legendY":6,"labelExpr":"datum.label=='N'?'NDP-MSH':datum.label=='S'?'SHU9119':datum.label+' nM SHU9119'"}}}},
{"data":{"name":"ann"},"transform":[{"filter":"datum.p=='D189N'"}],"mark":{"type":"text","align":"left","baseline":"middle","font":"DejaVu Sans","fontWeight":"bold","fontSize":15},"encoding":{"x":{"datum":-12.72},"y":{"datum":113},"text":{"field":"t"}}},
{"data":{"name":"ann"},"transform":[{"filter":"datum.p=='D189N'"}],"mark":{"type":"text","align":"left","baseline":"middle","font":"DejaVu Sans","fontSize":20},"encoding":{"x":{"datum":-4.33},"y":{"datum":-17},"text":{"field":"a"}}}
]},
{"width":276,"height":177,"layer":[
{"data":{"name":"fit"},"transform":[{"filter":"datum.p=='D189Q'"}],"mark":{"type":"line","interpolate":"monotone","strokeWidth":2},"encoding":{"x":{"field":"x","type":"quantitative","scale":{"domain":[-13.25,-5],"nice":false,"zero":false},"axis":{"values":[-12,-11,-10,-9,-8,-7,-6,-5],"offset":-29.5,"labelExpr":"datum.value<0?'-'+abs(datum.value):datum.label","title":"Log Peptide Concentration (M)"}},"y":{"field":"y","type":"quantitative","scale":{"domain":[-25,125],"nice":false,"zero":false},"axis":{"values":[-25,0,25,50,75,100,125],"labelExpr":"datum.value<0?'-'+abs(datum.value):datum.label","title":["Normalized cAMP Signal","(to NDP-MSH)"]}},"stroke":{"field":"c","type":"nominal","scale":{"domain":["N","1000","100","10","1","S"],"range":["#000000","#3a3a3a","#5e5e5e","#808080","#a8a8a8","#a020d8"]},"legend":null}}},
{"data":{"name":"pts"},"transform":[{"filter":"datum.p=='D189Q'"}],"mark":{"type":"point","filled":true,"opacity":1},"encoding":{"x":{"field":"x","type":"quantitative"},"y":{"field":"y","type":"quantitative"},"size":{"condition":{"test":"datum.s=='S'","value":260},"value":160},"color":{"field":"s","type":"nominal","scale":{"domain":["N","1000","100","10","1","S"],"range":["#000000","#3a3a3a","#5e5e5e","#808080","#a8a8a8","#7f00ff"]},"legend":{"title":null,"orient":"none","legendX":291,"legendY":6,"labelExpr":"datum.label=='N'?'NDP-MSH':datum.label=='S'?'SHU9119':datum.label+' nM SHU9119'"}},"shape":{"field":"s","type":"nominal","scale":{"domain":["N","1000","100","10","1","S"],"range":["square","triangle-up","triangle-down","diamond","circle","square"]},"legend":{"title":null,"orient":"none","legendX":291,"legendY":6,"labelExpr":"datum.label=='N'?'NDP-MSH':datum.label=='S'?'SHU9119':datum.label+' nM SHU9119'"}}}},
{"data":{"name":"ann"},"transform":[{"filter":"datum.p=='D189Q'"}],"mark":{"type":"text","align":"left","baseline":"middle","font":"DejaVu Sans","fontWeight":"bold","fontSize":15},"encoding":{"x":{"datum":-12.72},"y":{"datum":113},"text":{"field":"t"}}},
{"data":{"name":"ann"},"transform":[{"filter":"datum.p=='D189Q'"}],"mark":{"type":"text","align":"left","baseline":"middle","font":"DejaVu Sans","fontSize":20},"encoding":{"x":{"datum":-4.33},"y":{"datum":-17},"text":{"field":"a"}}}
]},
{"width":276,"height":177,"layer":[
{"data":{"name":"fit"},"transform":[{"filter":"datum.p=='D189S'"}],"mark":{"type":"line","interpolate":"monotone","strokeWidth":2},"encoding":{"x":{"field":"x","type":"quantitative","scale":{"domain":[-13.25,-5],"nice":false,"zero":false},"axis":{"values":[-12,-11,-10,-9,-8,-7,-6,-5],"offset":-29.5,"labelExpr":"datum.value<0?'-'+abs(datum.value):datum.label","title":"Log Peptide Concentration (M)"}},"y":{"field":"y","type":"quantitative","scale":{"domain":[-25,125],"nice":false,"zero":false},"axis":{"values":[-25,0,25,50,75,100,125],"labelExpr":"datum.value<0?'-'+abs(datum.value):datum.label","title":["Normalized cAMP Signal","(to NDP-MSH)"]}},"stroke":{"field":"c","type":"nominal","scale":{"domain":["N","1000","100","10","1","S"],"range":["#000000","#3a3a3a","#5e5e5e","#808080","#a8a8a8","#a020d8"]},"legend":null}}},
{"data":{"name":"pts"},"transform":[{"filter":"datum.p=='D189S'"}],"mark":{"type":"point","filled":true,"opacity":1},"encoding":{"x":{"field":"x","type":"quantitative"},"y":{"field":"y","type":"quantitative"},"size":{"condition":{"test":"datum.s=='S'","value":260},"value":160},"color":{"field":"s","type":"nominal","scale":{"domain":["N","1000","100","10","1","S"],"range":["#000000","#3a3a3a","#5e5e5e","#808080","#a8a8a8","#7f00ff"]},"legend":{"title":null,"orient":"none","legendX":291,"legendY":6,"labelExpr":"datum.label=='N'?'NDP-MSH':datum.label=='S'?'SHU9119':datum.label+' nM SHU9119'"}},"shape":{"field":"s","type":"nominal","scale":{"domain":["N","1000","100","10","1","S"],"range":["square","triangle-up","triangle-down","diamond","circle","square"]},"legend":{"title":null,"orient":"none","legendX":291,"legendY":6,"labelExpr":"datum.label=='N'?'NDP-MSH':datum.label=='S'?'SHU9119':datum.label+' nM SHU9119'"}}}},
{"data":{"name":"ann"},"transform":[{"filter":"datum.p=='D189S'"}],"mark":{"type":"text","align":"left","baseline":"middle","font":"DejaVu Sans","fontWeight":"bold","fontSize":15},"encoding":{"x":{"datum":-12.72},"y":{"datum":113},"text":{"field":"t"}}},
{"data":{"name":"ann"},"transform":[{"filter":"datum.p=='D189S'"}],"mark":{"type":"text","align":"left","baseline":"middle","font":"DejaVu Sans","fontSize":20},"encoding":{"x":{"datum":-4.33},"y":{"datum":-17},"text":{"field":"a"}}}
]},
{"width":276,"height":177,"layer":[
{"data":{"name":"fit"},"transform":[{"filter":"datum.p=='D189A'"}],"mark":{"type":"line","interpolate":"monotone","strokeWidth":2},"encoding":{"x":{"field":"x","type":"quantitative","scale":{"domain":[-13.25,-5],"nice":false,"zero":false},"axis":{"values":[-12,-11,-10,-9,-8,-7,-6,-5],"offset":-29.5,"labelExpr":"datum.value<0?'-'+abs(datum.value):datum.label","title":"Log Peptide Concentration (M)"}},"y":{"field":"y","type":"quantitative","scale":{"domain":[-25,125],"nice":false,"zero":false},"axis":{"values":[-25,0,25,50,75,100,125],"labelExpr":"datum.value<0?'-'+abs(datum.value):datum.label","title":["Normalized cAMP Signal","(to NDP-MSH)"]}},"stroke":{"field":"c","type":"nominal","scale":{"domain":["N","1000","100","10","1","S"],"range":["#000000","#3a3a3a","#5e5e5e","#808080","#a8a8a8","#a020d8"]},"legend":null}}},
{"data":{"name":"pts"},"transform":[{"filter":"datum.p=='D189A'"}],"mark":{"type":"point","filled":true,"opacity":1},"encoding":{"x":{"field":"x","type":"quantitative"},"y":{"field":"y","type":"quantitative"},"size":{"condition":{"test":"datum.s=='S'","value":260},"value":160},"color":{"field":"s","type":"nominal","scale":{"domain":["N","1000","100","10","1","S"],"range":["#000000","#3a3a3a","#5e5e5e","#808080","#a8a8a8","#7f00ff"]},"legend":{"title":null,"orient":"none","legendX":291,"legendY":6,"labelExpr":"datum.label=='N'?'NDP-MSH':datum.label=='S'?'SHU9119':datum.label+' nM SHU9119'"}},"shape":{"field":"s","type":"nominal","scale":{"domain":["N","1000","100","10","1","S"],"range":["square","triangle-up","triangle-down","diamond","circle","square"]},"legend":{"title":null,"orient":"none","legendX":291,"legendY":6,"labelExpr":"datum.label=='N'?'NDP-MSH':datum.label=='S'?'SHU9119':datum.label+' nM SHU9119'"}}}},
{"data":{"name":"ann"},"transform":[{"filter":"datum.p=='D189A'"}],"mark":{"type":"text","align":"left","baseline":"middle","font":"DejaVu Sans","fontWeight":"bold","fontSize":15},"encoding":{"x":{"datum":-12.72},"y":{"datum":113},"text":{"field":"t"}}},
{"data":{"name":"ann"},"transform":[{"filter":"datum.p=='D189A'"}],"mark":{"type":"text","align":"left","baseline":"middle","font":"DejaVu Sans","fontSize":20},"encoding":{"x":{"datum":-4.33},"y":{"datum":-17},"text":{"field":"a"}}}
]},
{"width":276,"height":177,"layer":[
{"data":{"name":"fit"},"transform":[{"filter":"datum.p=='D189K'"}],"mark":{"type":"line","interpolate":"monotone","strokeWidth":2},"encoding":{"x":{"field":"x","type":"quantitative","scale":{"domain":[-13.25,-5],"nice":false,"zero":false},"axis":{"values":[-12,-11,-10,-9,-8,-7,-6,-5],"offset":-29.5,"labelExpr":"datum.value<0?'-'+abs(datum.value):datum.label","title":"Log Peptide Concentration (M)"}},"y":{"field":"y","type":"quantitative","scale":{"domain":[-25,125],"nice":false,"zero":false},"axis":{"values":[-25,0,25,50,75,100,125],"labelExpr":"datum.value<0?'-'+abs(datum.value):datum.label","title":["Normalized cAMP Signal","(to NDP-MSH)"]}},"stroke":{"field":"c","type":"nominal","scale":{"domain":["N","1000","100","10","1","S"],"range":["#000000","#3a3a3a","#5e5e5e","#808080","#a8a8a8","#a020d8"]},"legend":null}}},
{"data":{"name":"pts"},"transform":[{"filter":"datum.p=='D189K'"}],"mark":{"type":"point","filled":true,"opacity":1},"encoding":{"x":{"field":"x","type":"quantitative"},"y":{"field":"y","type":"quantitative"},"size":{"condition":{"test":"datum.s=='S'","value":260},"value":160},"color":{"field":"s","type":"nominal","scale":{"domain":["N","1000","100","10","1","S"],"range":["#000000","#3a3a3a","#5e5e5e","#808080","#a8a8a8","#7f00ff"]},"legend":{"title":null,"orient":"none","legendX":291,"legendY":6,"labelExpr":"datum.label=='N'?'NDP-MSH':datum.label=='S'?'SHU9119':datum.label+' nM SHU9119'"}},"shape":{"field":"s","type":"nominal","scale":{"domain":["N","1000","100","10","1","S"],"range":["square","triangle-up","triangle-down","diamond","circle","square"]},"legend":{"title":null,"orient":"none","legendX":291,"legendY":6,"labelExpr":"datum.label=='N'?'NDP-MSH':datum.label=='S'?'SHU9119':datum.label+' nM SHU9119'"}}}},
{"data":{"name":"ann"},"transform":[{"filter":"datum.p=='D189K'"}],"mark":{"type":"text","align":"left","baseline":"middle","font":"DejaVu Sans","fontWeight":"bold","fontSize":15},"encoding":{"x":{"datum":-12.72},"y":{"datum":113},"text":{"field":"t"}}},
{"data":{"name":"ann"},"transform":[{"filter":"datum.p=='D189K'"}],"mark":{"type":"text","align":"left","baseline":"middle","font":"DejaVu Sans","fontSize":20},"encoding":{"x":{"datum":-4.33},"y":{"datum":-17},"text":{"field":"a"}}}
]}
]
}
